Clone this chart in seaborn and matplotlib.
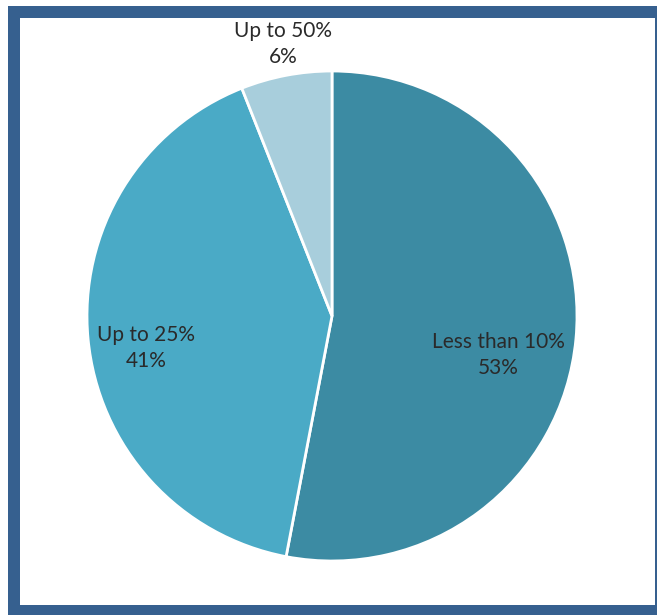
import matplotlib
matplotlib.use("Agg")
import matplotlib.pyplot as plt
from matplotlib.patches import Rectangle
import seaborn as sns

# Share of respondents by category
categories = ["Less than 10%", "Up to 25%", "Up to 50%"]
shares = [53, 41, 6]
colors = ["#3C8BA3", "#4AAAC6", "#A8CEDC"]

sns.set_theme(style="white")
plt.rcParams["font.family"] = ["Lato", "DejaVu Sans"]

W, H = 657, 615
fig = plt.figure(figsize=(W / 100, H / 100), dpi=100)
fig.patch.set_facecolor("white")

# Pie placement in pixels (centre and radius)
cx, cy, r = 332, 316, 245
ax = fig.add_axes([(cx - r) / W, (H - cy - r) / H, 2 * r / W, 2 * r / H])

wedges, _ = ax.pie(
    shares,
    colors=colors,
    startangle=90,
    counterclock=False,
    radius=1.0,
    wedgeprops=dict(edgecolor="white", linewidth=2),
)
ax.set_xlim(-1, 1)
ax.set_ylim(-1, 1)
ax.set_aspect("equal")
ax.axis("off")

# Label anchors (data units of the pie axes)
label_pos = [(0.68, -0.16), (-0.76, -0.13), (-0.20, 1.11)]
for name, val, (lx, ly) in zip(categories, shares, label_pos):
    ax.text(lx, ly, f"{name}\n{val}%", ha="center", va="center",
            fontsize=15, color="#2A2A2A", linespacing=1.4,
            clip_on=False)

# Blue frame around the figure: left, top and bottom bands, thin right edge
frame = "#36608F"
bands = [
    (8, 6, 12, 609),     # left  (x, y-from-top, width, height)
    (8, 6, 649, 12),     # top
    (8, 605, 649, 10),   # bottom
    (655, 6, 2, 609),    # right
]
for x, y, w, h in bands:
    fig.patches.append(Rectangle(
        (x / W, (H - y - h) / H), w / W, h / H,
        transform=fig.transFigure, facecolor=frame, edgecolor="none",
        zorder=10))

fig.savefig("out.png", dpi=100)
